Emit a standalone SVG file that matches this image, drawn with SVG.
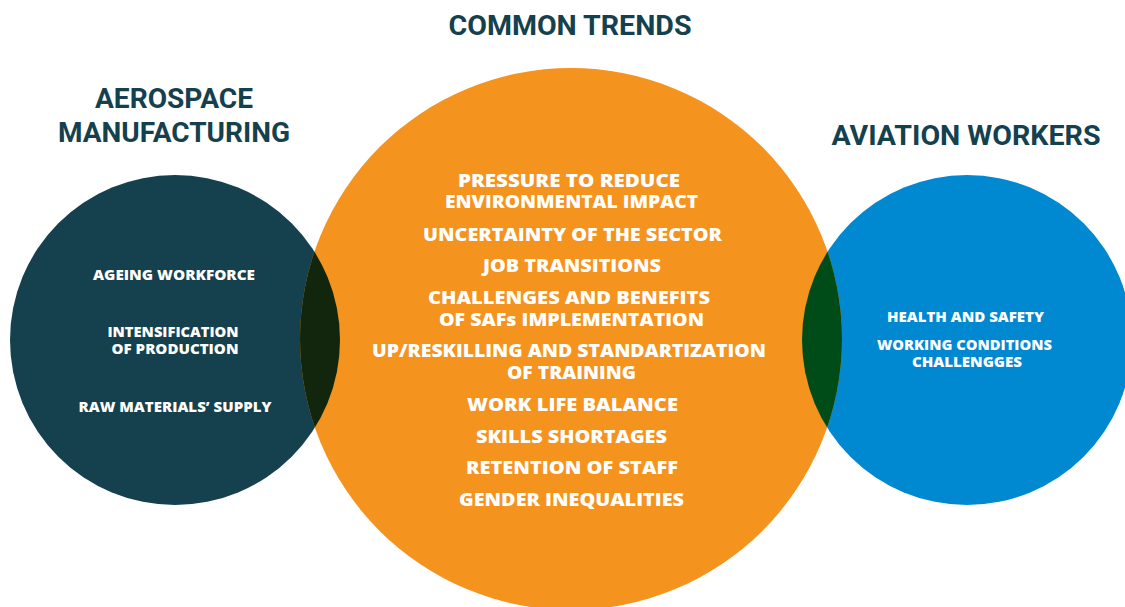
<svg xmlns="http://www.w3.org/2000/svg" width="1125" height="607" viewBox="0 0 1125 607">
<style>
.title{font-family:Roboto,"Liberation Sans",sans-serif;font-weight:700;font-size:27px;fill:#15404d;text-anchor:middle}
.t{font-family:"Open Sans","Liberation Sans",sans-serif;font-weight:800;fill:#ffffff;text-anchor:middle}
.s{font-size:13.5px}
.m{font-size:17px}
</style>
<defs>
<clipPath id="clipOrange"><circle cx="571" cy="339" r="271"/></clipPath>
</defs>
<rect width="1125" height="607" fill="#ffffff"/>
<g id="aerospace-manufacturing">
<circle cx="175" cy="340" r="165" fill="#15404d"/>
</g>
<g id="aviation-workers">
<circle cx="967" cy="340" r="165" fill="#0088d1"/>
</g>
<g id="common-trends">
<circle cx="571" cy="339" r="271" fill="#f5931f"/>
</g>
<g id="overlaps" clip-path="url(#clipOrange)">
<circle cx="175" cy="340" r="165" fill="#12260d"/>
<circle cx="967" cy="340" r="165" fill="#004c18"/>
</g>
<g id="connectors"></g>
<g id="titles">
<text class="title" x="174" y="108" textLength="158" lengthAdjust="spacingAndGlyphs">AEROSPACE</text>
<text class="title" x="174" y="142" textLength="232" lengthAdjust="spacingAndGlyphs">MANUFACTURING</text>
<text class="title" x="570" y="35" textLength="243" lengthAdjust="spacingAndGlyphs">COMMON TRENDS</text>
<text class="title" x="966" y="145" textLength="269" lengthAdjust="spacingAndGlyphs">AVIATION WORKERS</text>
</g>
<g id="left-texts">
<text class="t s" x="174" y="280" textLength="162" lengthAdjust="spacingAndGlyphs">AGEING WORKFORCE</text>
<text class="t s" x="173" y="337" textLength="131" lengthAdjust="spacingAndGlyphs">INTENSIFICATION</text>
<text class="t s" x="175" y="354" textLength="127" lengthAdjust="spacingAndGlyphs">OF PRODUCTION</text>
<text class="t s" x="175" y="412" textLength="193" lengthAdjust="spacingAndGlyphs">RAW MATERIALS’ SUPPLY</text>
</g>
<g id="center-texts">
<text class="t m" x="569" y="187" textLength="222" lengthAdjust="spacingAndGlyphs">PRESSURE TO REDUCE</text>
<text class="t m" x="571.5" y="208" textLength="253" lengthAdjust="spacingAndGlyphs">ENVIRONMENTAL IMPACT</text>
<text class="t m" x="572.5" y="241" textLength="299" lengthAdjust="spacingAndGlyphs">UNCERTAINTY OF THE SECTOR</text>
<text class="t m" x="572" y="272" textLength="178" lengthAdjust="spacingAndGlyphs">JOB TRANSITIONS</text>
<text class="t m" x="569" y="304" textLength="282" lengthAdjust="spacingAndGlyphs">CHALLENGES AND BENEFITS</text>
<text class="t m" x="571.5" y="326" textLength="265" lengthAdjust="spacingAndGlyphs">OF SAFs IMPLEMENTATION</text>
<text class="t m" x="569" y="357" textLength="394" lengthAdjust="spacingAndGlyphs">UP/RESKILLING AND STANDARTIZATION</text>
<text class="t m" x="571.5" y="379" textLength="129" lengthAdjust="spacingAndGlyphs">OF TRAINING</text>
<text class="t m" x="572.5" y="411" textLength="211" lengthAdjust="spacingAndGlyphs">WORK LIFE BALANCE</text>
<text class="t m" x="571.5" y="443" textLength="191" lengthAdjust="spacingAndGlyphs">SKILLS SHORTAGES</text>
<text class="t m" x="572" y="474" textLength="212" lengthAdjust="spacingAndGlyphs">RETENTION OF STAFF</text>
<text class="t m" x="571.5" y="506" textLength="225" lengthAdjust="spacingAndGlyphs">GENDER INEQUALITIES</text>
</g>
<g id="right-texts">
<text class="t s" x="965.5" y="322" textLength="157" lengthAdjust="spacingAndGlyphs">HEALTH AND SAFETY</text>
<text class="t s" x="964.5" y="350" textLength="175" lengthAdjust="spacingAndGlyphs">WORKING CONDITIONS</text>
<text class="t s" x="967" y="367" textLength="110" lengthAdjust="spacingAndGlyphs">CHALLENGGES</text>
</g>
</svg>
